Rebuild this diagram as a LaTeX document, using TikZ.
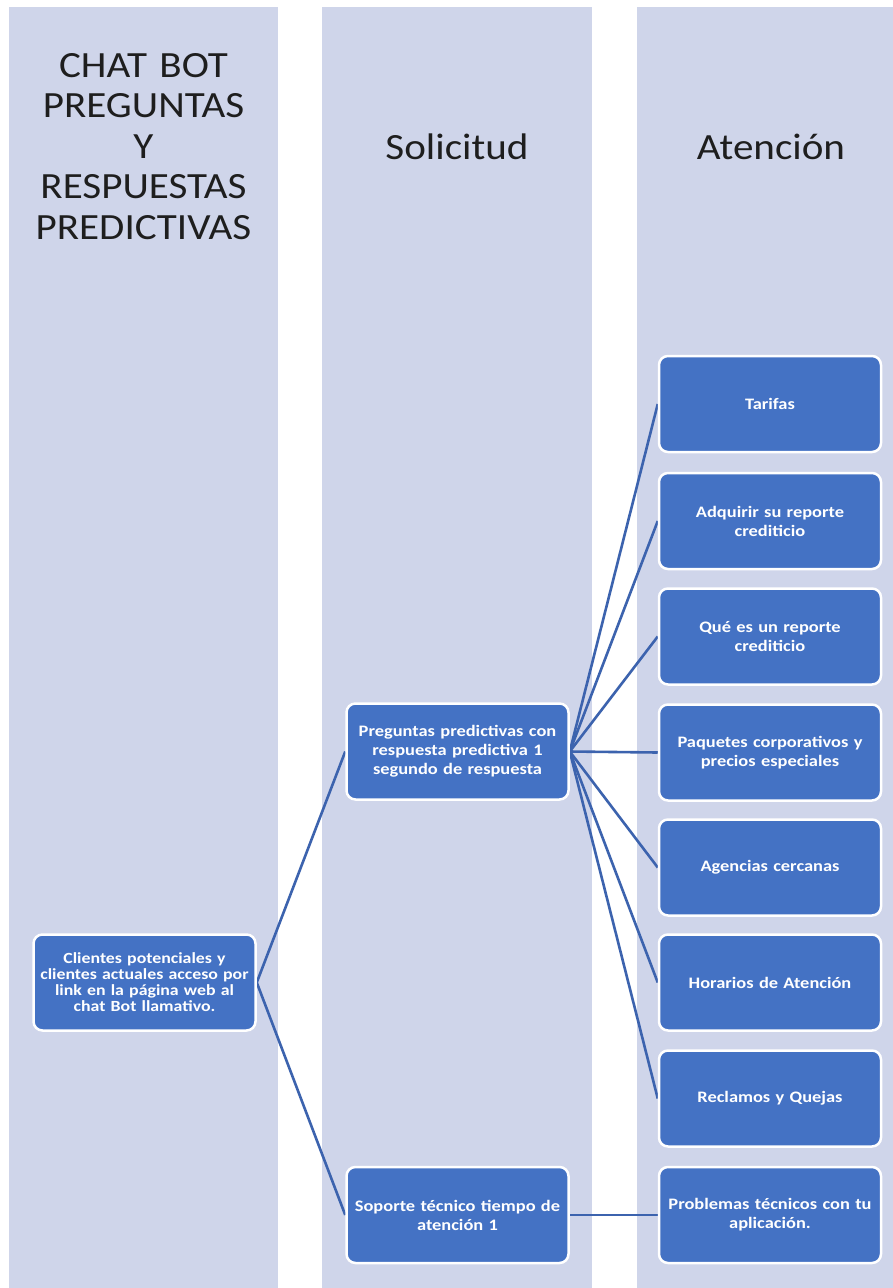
\documentclass[tikz,border=0pt]{standalone}
\usepackage{fontspec}
\setmainfont{Carlito}
\newfontfamily\headfont[FakeStretch=1.11]{Carlito}
\newfontfamily\cardfont[FakeStretch=1.15]{Carlito}
\definecolor{laneblue}{HTML}{CFD5EA}
\definecolor{cardblue}{HTML}{4472C4}
\definecolor{linkblue}{HTML}{3C63AE}
\definecolor{headgray}{HTML}{1E1E1E}
\pgfdeclarelayer{lanes}
\pgfdeclarelayer{links}
\pgfsetlayers{lanes,links,main}
\begin{document}
\begin{tikzpicture}[x=1pt,y=-1pt,
  lane/.style={fill=laneblue, draw=none},
  card/.style={rectangle, rounded corners=9pt, fill=cardblue, draw=white,
    line width=2.5pt, minimum width=222pt, minimum height=96pt,
    text width=216pt, align=center, text=white, inner sep=0pt,
    font=\cardfont\bfseries\fontsize{16}{19}\selectfont},
  link/.style={draw=linkblue, line width=2.6pt},
  head/.style={text=headgray, font=\headfont\fontsize{37}{40.5}\selectfont, align=center}
]
\useasboundingbox (0,0) rectangle (893,1288);

% three swimlanes
\begin{pgfonlayer}{lanes}
  \fill[white] (0,0) rectangle (893,1288);
  \path[lane] (9,7) rectangle (278,1288);
  \path[lane] (322,7) rectangle (592,1288);
  \path[lane] (637,7) rectangle (893,1288);
\end{pgfonlayer}

% lane headings
\node[head, text width=264pt, anchor=base] (title) at (143.5,77)
  {CHAT BOT\\PREGUNTAS\\Y\\RESPUESTAS\\PREDICTIVAS};
\node[head, anchor=base] (sol) at (457,159) {Solicitud};
\node[head, anchor=base] (ate) at (771,159) {Atención};

% entry point
\node[card, font=\cardfont\bfseries\fontsize{15.5}{16}\selectfont] (cli) at (144.5,982.5)
  {Clientes potenciales y\\clientes actuales acceso por\\link en la página web al\\chat Bot llamativo.};

% requests
\node[card] (pre) at (457.5,751.5)
  {Preguntas predictivas con\\respuesta predictiva 1\\segundo de respuesta};
\node[card] (sop) at (457.5,1215) {Soporte técnico tiempo de\\atención 1};

% attention topics
\node[card] (tar) at (770,404) {Tarifas};
\node[card] (adq) at (770,521) {Adquirir su reporte\\crediticio};
\node[card] (que) at (770,636.5) {Qué es un reporte\\crediticio};
\node[card] (paq) at (770,752.5) {Paquetes corporativos y\\precios especiales};
\node[card] (age) at (770,867.5) {Agencias cercanas};
\node[card] (hor) at (770,982.5) {Horarios de Atención};
\node[card] (rec) at (770,1098.5) {Reclamos y Quejas};
\node[card] (prob) at (770,1215) {Problemas técnicos con tu\\aplicación.};

% connectors, from the right side of each parent to the left side of each child
\begin{pgfonlayer}{links}
  \draw[link] (cli.east) -- (pre.west);
  \draw[link] (cli.east) -- (sop.west);
  \foreach \t in {tar,adq,que,paq,age,hor,rec}
    \draw[link] (pre.east) -- (\t.west);
  \draw[link] (sop.east) -- (prob.west);
\end{pgfonlayer}
\end{tikzpicture}
\end{document}
